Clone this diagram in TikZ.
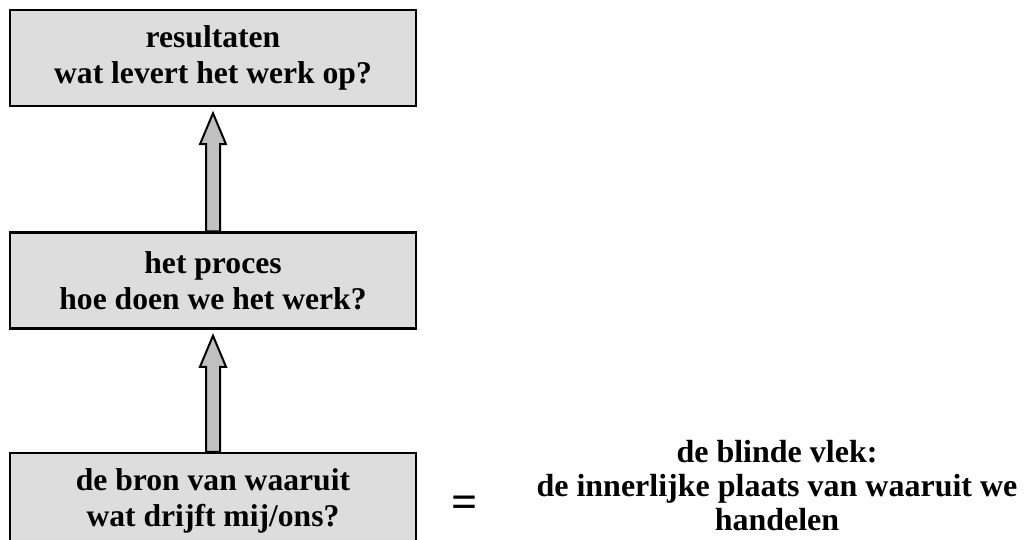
\documentclass[tikz,border=0pt]{standalone}
\usepackage{fontspec}
\setmainfont{Liberation Serif}
\usetikzlibrary{calc}
\usetikzlibrary{positioning}

\tikzset{
  box/.style={draw=black, line width=2.5pt, fill=boxgray, minimum width=406pt, minimum height=96pt,
    align=center, inner sep=0pt, font=\bfseries\fontsize{31.6}{36}\selectfont},
  blockarrow/.style={draw=black, line width=2pt, fill=arrowgray, line join=miter},
  plaintext/.style={align=center, inner sep=0pt, font=\bfseries\fontsize{32}{34}\selectfont}
}
\definecolor{boxgray}{HTML}{DDDDDD}
\definecolor{arrowgray}{HTML}{C0C0C0}

% block arrow from the top of #1 up to just under #2
\newcommand{\blockarrow}[2]{%
  \draw[blockarrow] ($(#1.north)+(-7,0)$) -- ($(#2.south)+(-7,37)$) -- ++(-6,0)
    -- ($(#2.south)+(0,6)$) -- ($(#2.south)+(13,37)$) -- ++(-6,0)
    -- ($(#1.north)+(7,0)$) -- cycle;}

\begin{document}
\begin{tikzpicture}[x=1pt, y=-1pt]
  \clip (0,0) rectangle (1025,540);
  \fill[white] (0,0) rectangle (1025,540);

  % the three levels
  \node[box] (resultaten) at (213,58) {resultaten\\wat levert het werk op?};
  \node[box, below=124pt of resultaten] (proces) {het proces\\hoe doen we het werk?};
  \node[box, below=122pt of proces] (bron) {de bron van waaruit\\wat drijft mij/ons?};

  % arrows upward
  \blockarrow{proces}{resultaten}
  \blockarrow{bron}{proces}

  % blind spot
  \node[plaintext, font=\bfseries\fontsize{46}{46}\selectfont] (gelijk) at (465,507) {=};
  \node[plaintext] (vlek) at (777,486) {de blinde vlek:\\de innerlijke plaats van waaruit we\\handelen};
\end{tikzpicture}
\end{document}
